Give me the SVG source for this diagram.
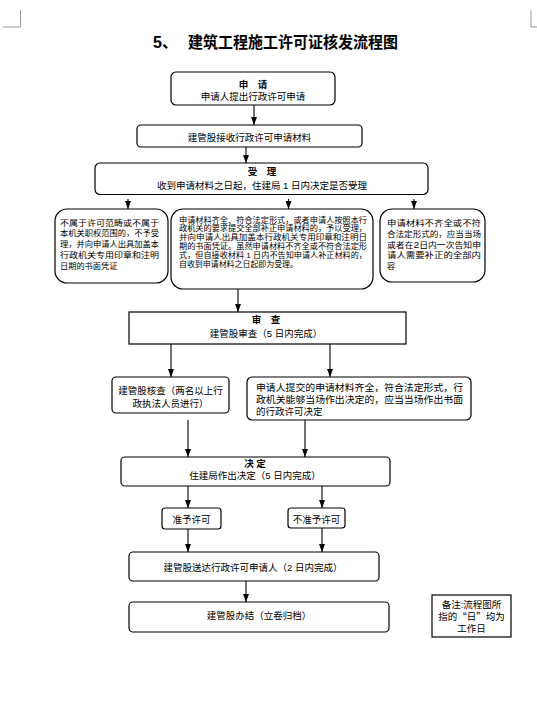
<svg xmlns="http://www.w3.org/2000/svg" width="537" height="704" viewBox="0 0 537 704">
<defs>
<marker id="arr" markerWidth="6" markerHeight="8" refX="3" refY="8" orient="0" markerUnits="userSpaceOnUse">
<path d="M0,0 L6,0 L3,8 z" fill="#000"/>
</marker>
<style>
.bx{fill:#fff;stroke:#000;stroke-width:1.2}
.t{font-family:"Liberation Sans","Noto Sans CJK SC",sans-serif;font-size:9.5px;fill:#000}
.c{text-anchor:middle}
.b{font-weight:bold}
.s{font-size:8.2px}
.m{font-size:7.7px}
.q{font-family:"Noto Sans CJK SC",sans-serif}
.cn line{stroke:#000;stroke-width:1.1;marker-end:url(#arr)}
.crop{stroke:#999;stroke-width:1;fill:none}
</style>
</defs>
<rect width="537" height="704" fill="#fff"/>
<path class="crop" d="M20.5,10 V27 H3"/>
<path class="crop" d="M531,10 V27 H537"/>
<text class="t b" x="153" y="48" style="font-size:16px">5、</text>
<text class="t b" x="188" y="48" style="font-size:16px" textLength="210" lengthAdjust="spacingAndGlyphs">建筑工程施工许可证核发流程图</text>

<g id="n-apply">
<rect class="bx" x="171" y="72" width="164" height="33" rx="5"/>
<text class="t c b" x="253" y="88">申　请</text>
<text class="t c" x="253" y="100">申请人提出行政许可申请</text>
</g>
<g id="n-receive">
<rect class="bx" x="137" y="125" width="225" height="22" rx="4"/>
<text class="t c" x="249.5" y="141">建管股接收行政许可申请材料</text>
</g>
<g id="n-accept">
<rect class="bx" x="95" y="163" width="333" height="31.5" rx="5"/>
<text class="t c b" x="262" y="174.5">受　理</text>
<text class="t c" x="262" y="188.5">收到申请材料之日起，住建局 1 日内决定是否受理</text>
</g>
<g id="n-reject">
<rect class="bx" x="55" y="209" width="113" height="74" rx="12"/>
<text class="t s" x="60" y="225.5" textLength="99" lengthAdjust="spacingAndGlyphs">不属于许可范畴或不属于</text>
<text class="t s" x="60" y="236.4" textLength="99" lengthAdjust="spacingAndGlyphs">本机关职权范围的，不予受</text>
<text class="t s" x="60" y="247.3" textLength="99" lengthAdjust="spacingAndGlyphs">理，并向申请人出具加盖本</text>
<text class="t s" x="60" y="258.2" textLength="99" lengthAdjust="spacingAndGlyphs">行政机关专用印章和注明</text>
<text class="t s" x="60" y="269">日期的书面凭证</text>
</g>
<g id="n-accepted">
<rect class="bx" x="171" y="209" width="202" height="80" rx="12"/>
<text class="t m" x="179" y="222.5" textLength="188" lengthAdjust="spacingAndGlyphs">申请材料齐全、符合法定形式，或者申请人按照本行</text>
<text class="t m" x="179" y="231.3" textLength="188" lengthAdjust="spacingAndGlyphs">政机关的要求提交全部补正申请材料的，予以受理，</text>
<text class="t m" x="179" y="240.1" textLength="188" lengthAdjust="spacingAndGlyphs">并向申请人出具加盖本行政机关专用印章和注明日</text>
<text class="t m" x="179" y="248.9" textLength="188" lengthAdjust="spacingAndGlyphs">期的书面凭证。虽然申请材料不齐全或不符合法定形</text>
<text class="t m" x="179" y="257.7" textLength="188" lengthAdjust="spacingAndGlyphs">式，但自接收材料 1 日内不告知申请人补正材料的，</text>
<text class="t m" x="179" y="266.5" textLength="119" lengthAdjust="spacingAndGlyphs">自收到申请材料之日起即为受理。</text>
</g>
<g id="n-supplement">
<rect class="bx" x="380" y="209" width="105" height="73" rx="12"/>
<text class="t s" x="387" y="226" textLength="94" lengthAdjust="spacingAndGlyphs">申请材料不齐全或不符</text>
<text class="t s" x="387" y="236.75" textLength="94" lengthAdjust="spacingAndGlyphs">合法定形式的，应当当场</text>
<text class="t s" x="387" y="247.5" textLength="94" lengthAdjust="spacingAndGlyphs">或者在<tspan style="font-size:9.5px">2</tspan>日内一次告知申</text>
<text class="t s" x="387" y="258.25" textLength="94" lengthAdjust="spacingAndGlyphs">请人需要补正的全部内</text>
<text class="t s" x="387" y="269">容</text>
</g>
<g id="n-review">
<rect class="bx" x="129" y="312" width="277" height="32" rx="0"/>
<text class="t c b" x="266" y="322.5">审　查</text>
<text class="t c" x="266" y="336.5">建管股审查（5 日内完成）</text>
</g>
<g id="n-check">
<rect class="bx" x="112" y="377" width="117" height="36" rx="4"/>
<text class="t c" x="170.5" y="393.5">建管股核查（两名以上行</text>
<text class="t c" x="170.5" y="406.5">政执法人员进行）</text>
</g>
<g id="n-onsite">
<rect class="bx" x="247" y="377" width="224" height="43" rx="5"/>
<text class="t" x="256" y="391" textLength="207" lengthAdjust="spacingAndGlyphs">申请人提交的申请材料齐全，符合法定形式，行</text>
<text class="t" x="256" y="403" textLength="207" lengthAdjust="spacingAndGlyphs">政机关能够当场作出决定的，应当当场作出书面</text>
<text class="t" x="256" y="415">的行政许可决定</text>
</g>
<g id="n-decide">
<rect class="bx" x="121" y="457" width="269" height="29" rx="4"/>
<text class="t c b" x="255" y="466.5">决 定</text>
<text class="t c" x="255" y="478.5">住建局作出决定（5 日内完成）</text>
</g>
<g id="n-grant">
<rect class="bx" x="162" y="508" width="59" height="21" rx="3"/>
<text class="t c" x="191.5" y="523">准予许可</text>
</g>
<g id="n-deny">
<rect class="bx" x="288" y="508" width="57" height="20" rx="3"/>
<text class="t c" x="316.5" y="522.5">不准予许可</text>
</g>
<g id="n-deliver">
<rect class="bx" x="129" y="552" width="250" height="29" rx="4"/>
<text class="t c" x="253" y="571">建管股送达行政许可申请人（2 日内完成）</text>
</g>
<g id="n-close">
<rect class="bx" x="129" y="602" width="260" height="30" rx="4"/>
<text class="t c" x="259" y="618.5">建管股办结（立卷归档）</text>
</g>
<g id="n-note">
<rect class="bx" x="432" y="595" width="79" height="42" rx="0"/>
<text class="t c" x="471.5" y="608" style="font-size:9.5px">备注:流程图所</text>
<text class="t c" x="471.5" y="620" style="font-size:9.5px">指的<tspan class="q">“</tspan>日<tspan class="q">”</tspan>均为</text>
<text class="t c" x="471.5" y="632" style="font-size:9.5px">工作日</text>
</g>

<g class="cn" id="connectors">
<line x1="254" y1="105" x2="254" y2="125"/>
<line x1="246" y1="147" x2="246" y2="163"/>
<line x1="128" y1="199" x2="128" y2="209"/>
<line x1="288.5" y1="199" x2="288.5" y2="209"/>
<line x1="414" y1="199" x2="414" y2="209"/>
<line x1="238" y1="289" x2="238" y2="312"/>
<line x1="171" y1="344" x2="171" y2="377"/>
<line x1="330" y1="344" x2="330" y2="377"/>
<line x1="188" y1="420" x2="188" y2="457"/>
<line x1="305" y1="420" x2="305" y2="457"/>
<line x1="188" y1="486" x2="188" y2="508"/>
<line x1="322" y1="486" x2="322" y2="508"/>
<line x1="188" y1="529" x2="188" y2="552"/>
<line x1="322" y1="528" x2="322" y2="552"/>
<line x1="246" y1="581" x2="246" y2="602"/>
</g>
</svg>
